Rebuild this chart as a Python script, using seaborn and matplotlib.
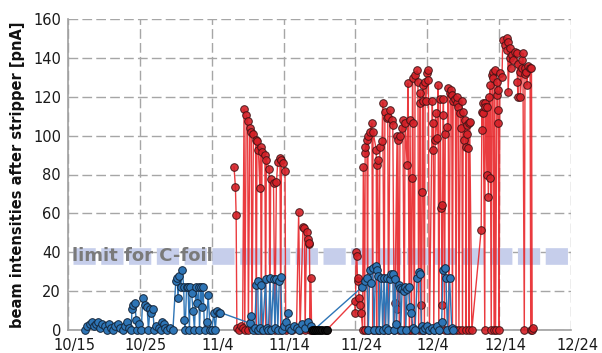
import matplotlib
matplotlib.use('Agg')
import matplotlib.pyplot as plt
import matplotlib.transforms as mtransforms
import seaborn as sns
import pandas as pd

# x values are days after 10/15
tick_days = [0, 10, 20, 30, 40, 50, 60, 70]
tick_labels = ['10/15', '10/25', '11/4', '11/14', '11/24', '12/4', '12/14', '12/24']
limit_value = 38

blue_days = [2.4, 2.7, 3.0, 3.3, 3.6, 3.9, 4.2, 4.5, 4.8, 5.1,
             5.4, 5.7, 6.0, 6.3, 6.6, 7.0, 7.3, 7.6, 7.9, 8.2,
             8.5, 8.8, 8.9, 9.1, 9.3, 9.5, 9.6, 9.9, 10.2, 10.4,
             10.7, 11.0, 11.2, 11.4, 11.6, 11.8, 12.0, 12.3, 12.6, 12.9,
             13.1, 13.3, 13.5, 13.8, 14.2, 14.6, 15.0, 15.2, 15.3, 15.5,
             15.7, 15.9, 16.1, 16.2, 16.3, 16.5, 16.7, 16.9, 17.0, 17.2,
             17.4, 17.6, 17.8, 18.0, 18.2, 18.3, 18.5, 18.6, 18.8, 19.0,
             19.3, 19.5, 19.8, 20.0, 20.3, 20.5, 20.7, 21.0, 21.2, 25.3,
             25.5, 25.7, 26.0, 26.2, 26.4, 26.5, 26.7, 26.9, 27.1, 27.5,
             27.7, 27.9, 28.1, 28.3, 28.6, 28.8, 29.0, 29.2, 29.4, 29.6,
             29.8, 30.0, 30.3, 30.6, 30.8, 31.0, 31.4, 31.8, 32.2, 32.6,
             33.0, 33.4, 33.8, 34.2, 40.9, 41.3, 41.6, 41.8, 42.0, 42.2,
             42.4, 42.6, 42.8, 43.0, 43.2, 43.3, 43.6, 43.8, 44.0, 44.2,
             44.4, 44.6, 44.8, 45.0, 45.2, 45.3, 45.5, 45.7, 46.0, 46.2,
             46.3, 46.5, 46.7, 46.9, 47.0, 47.2, 47.4, 47.6, 47.8, 48.0,
             48.3, 48.6, 48.8, 49.0, 49.2, 49.4, 49.7, 50.0, 50.3, 50.6,
             51.0, 51.3, 51.6, 52.0, 52.2, 52.4, 52.6, 52.8, 53.1, 53.4,
             53.6]
blue_vals = [0, 2, 3, 4, 2, 3, 4, 1, 3, 2,
             0, 3, 1, 0, 2, 3, 1, 0, 2, 4,
             1, 0, 11, 13, 14, 5, 0, 3, 0, 16.5,
             13, 12, 0, 11, 8.7, 11, 0, 2, 1, 0,
             4, 3, 1, 0, 1, 0, 25, 27, 16.5, 28,
             22, 31, 22, 5, 0, 22, 22, 0, 22, 19,
             10, 0, 22, 14, 22, 0, 22, 12, 22, 0,
             4, 18, 0, 0, 9, 0, 10, 9, 9, 3.5,
             7, 0, 1, 23, 25, 0, 1, 23, 0, 26,
             1, 0, 27, 0, 26, 1, 26, 0, 25, 27.5,
             0, 2, 4, 9, 1, 0, 2, 1, 0, 3,
             1, 4, 2, 0, 22, 25, 27, 0, 31, 24,
             32, 0, 33, 31, 28, 0, 27, 0, 27, 1,
             27, 0, 26, 29, 29, 0, 26, 3, 23, 21.5,
             0, 21, 20, 22, 0, 21, 22, 12, 9, 1,
             0, 27, 30, 29, 2, 0, 1, 2, 0, 1,
             0, 2, 0, 4, 31, 32, 27, 0, 27, 1,
             0]

red_days = [23.1, 23.3, 23.4, 23.5, 23.8, 24.1, 24.3, 24.5, 24.6, 24.8,
            25.0, 25.1, 25.3, 25.5, 25.6, 25.8, 26.1, 26.2, 26.3, 26.5,
            26.7, 26.8, 26.9, 27.0, 27.4, 27.5, 27.6, 28.0, 28.1, 28.2,
            28.6, 28.8, 29.0, 29.2, 29.5, 29.6, 29.7, 29.9, 30.2, 30.3,
            30.6, 31.2, 31.8, 32.1, 32.3, 32.7, 32.9, 33.0, 33.2, 33.4,
            33.5, 33.6, 33.7, 33.8, 33.9, 36.0, 39.9, 40.0, 40.1, 40.2,
            40.3, 40.4, 40.5, 40.6, 40.8, 41.0, 41.1, 41.3, 41.35, 41.4,
            41.6, 41.7, 41.75, 42.0, 42.3, 42.4, 42.45, 42.9, 42.95, 43.0,
            43.1, 43.3, 43.4, 43.7, 43.8, 44.0, 44.1, 44.4, 44.5, 44.6,
            44.8, 45.1, 45.2, 45.4, 45.5, 45.8, 45.85, 45.9, 46.1, 46.2,
            46.5, 46.6, 46.8, 46.9, 47.2, 47.3, 47.5, 47.6, 47.8, 47.9,
            47.95, 48.0, 48.2, 48.3, 48.6, 48.7, 48.8, 49.0, 49.05, 49.1,
            49.2, 49.3, 49.35, 49.4, 49.6, 49.7, 49.8, 50.0, 50.1, 50.15,
            50.3, 50.7, 50.8, 50.85, 50.9, 51.1, 51.15, 51.4, 51.5, 51.6,
            51.8, 51.9, 52.0, 52.05, 52.2, 52.25, 52.4, 52.5, 52.8, 52.9,
            53.0, 53.2, 53.25, 53.4, 53.5, 53.6, 53.9, 54.0, 54.1, 54.15,
            54.3, 54.4, 54.6, 54.65, 54.8, 54.9, 55.0, 55.05, 55.3, 55.35,
            55.4, 55.5, 55.55, 55.7, 55.75, 55.8, 55.9, 56.2, 57.5, 57.6,
            57.65, 57.7, 57.8, 58.0, 58.05, 58.1, 58.3, 58.35, 58.5, 58.55,
            58.7, 58.75, 58.9, 59.0, 59.1, 59.15, 59.3, 59.4, 59.5, 59.7,
            59.75, 59.8, 59.85, 59.9, 60.0, 60.1, 60.4, 60.5, 60.8, 61.1,
            61.15, 61.2, 61.25, 61.5, 61.55, 61.6, 61.8, 61.9, 62.2, 62.5,
            62.55, 62.6, 62.65, 62.9, 62.95, 63.2, 63.25, 63.3, 63.5, 63.6,
            63.65, 63.8, 63.85, 64.0, 64.3, 64.4, 64.5, 64.6, 64.7]
red_vals = [84, 73.5, 59, 1, 0, 2, 1, 113.5, 0, 110.5,
            107.5, 0, 104, 102, 1, 101, 98, 0, 97, 92.6,
            73, 94, 0, 91.5, 90, 0, 87.5, 83, 0, 77.7,
            75.6, 0, 76, 86.4, 88.5, 0, 87.5, 86, 82, 0,
            1, 0, 1, 60.7, 0, 53, 52.5, 0, 50.4, 47,
            44, 45, 0, 27, 0, 0, 15, 9, 40, 38,
            25, 27, 16.5, 13, 9, 0, 84, 0, 91, 94,
            97.7, 0, 100, 102, 106.5, 0, 102, 92.6, 0, 85,
            87.5, 0, 94, 97, 117, 0, 112, 109, 109.6, 0,
            113, 108, 105.5, 0, 14, 100, 11, 97.7, 0, 100,
            104, 108, 0, 106.5, 85, 127, 0, 108, 0, 78,
            129.6, 106.5, 0, 131, 133.7, 127.5, 0, 122, 117, 13,
            0, 71, 118, 126, 0, 127.5, 118, 132, 134, 128.6,
            0, 118, 92.6, 106.5, 0, 97.7, 111.6, 99, 126, 0,
            119, 62.7, 64.3, 13, 110.6, 119, 0, 101, 104.4, 124.5,
            0, 122, 123.5, 121, 0, 118, 119, 0, 117, 120,
            114.7, 0, 111.6, 104, 118, 0, 112, 97.7, 108, 94,
            0, 105.5, 101, 93.6, 106.5, 0, 107, 0, 51.4, 112,
            103, 111.6, 117, 0, 116.7, 114.7, 79.7, 114.7, 68.4, 120,
            78, 126, 0, 131, 132.7, 129.6, 0, 133.7, 0, 127.5,
            121, 123.5, 113, 106.5, 0, 132, 130, 149, 146.6, 150,
            144, 148, 122.4, 145, 140, 135, 141.5, 139, 143, 142.5,
            127.5, 120, 137, 132.7, 120, 135, 139, 142.5, 0, 135,
            131.7, 132.7, 126, 136, 135, 0, 135, 0, 1]

black_days = [33.9, 34.2, 34.5, 34.8, 35.1, 35.4, 35.7, 36.0]
black_vals = [0, 0, 0, 0, 0, 0, 0, 0]

red = pd.DataFrame({'day': red_days, 'beam': red_vals})
blue = pd.DataFrame({'day': blue_days, 'beam': blue_vals})
black = pd.DataFrame({'day': black_days, 'beam': black_vals})

sns.set_style('white')
plt.rcParams['font.family'] = ['DejaVu Sans']
plt.rcParams['lines.scale_dashes'] = False

fig = plt.figure(figsize=(6.02, 3.53), dpi=100)
ax = fig.add_axes([68 / 602, 1 - 330 / 353, 503 / 602, 311 / 353])

# limit band
ax.axhline(limit_value, xmin=0.01, xmax=1, color='#c6ceeb', lw=12,
           linestyle=(0, (16, 4)), zorder=1)
ax.text(0.6, limit_value, 'limit for C-foil', color='#7a7a7a', fontsize=13,
        fontweight='bold', va='center', ha='left', zorder=1.5)

sns.lineplot(data=red, x='day', y='beam', ax=ax, estimator=None, sort=False,
             color='#e8262a', lw=1.0, alpha=0.9, marker='o', markersize=5.5,
             markerfacecolor='#d42027', markeredgecolor='#3b1214',
             markeredgewidth=0.7, clip_on=False, zorder=3)
sns.lineplot(data=blue, x='day', y='beam', ax=ax, estimator=None, sort=False,
             color='#2e75b6', lw=1.0, marker='o', markersize=5.5,
             markerfacecolor='#2e75b6', markeredgecolor='#14263b',
             markeredgewidth=0.7, clip_on=False, zorder=4)
sns.lineplot(data=black, x='day', y='beam', ax=ax, estimator=None, sort=False,
             color='#111111', lw=1.0, marker='o', markersize=5.5,
             markerfacecolor='#111111', markeredgecolor='#000000',
             markeredgewidth=0.7, clip_on=False, zorder=5)

ax.set_xlim(0, 70)
ax.set_ylim(0, 160)
ax.set_xticks(tick_days)
ax.set_xticklabels(tick_labels)
ax.set_yticks(range(0, 161, 20))
ax.tick_params(length=0, labelsize=10.5, colors='#1a1a1a')
ax.tick_params(axis='x', pad=6)
ax.tick_params(axis='y', pad=5)
offset = mtransforms.ScaledTranslation(6 / 100, 0, fig.dpi_scale_trans)
for lab in ax.get_xticklabels():
    lab.set_transform(lab.get_transform() + offset)

ax.grid(True, color='#a6a6a6', linestyle=(0, (7, 3)), lw=1.0)
ax.set_axisbelow(True)
for s in ['top', 'right']:
    ax.spines[s].set_visible(False)
for s in ['left', 'bottom']:
    ax.spines[s].set_color('#a0a0a0')
    ax.spines[s].set_linewidth(1.2)

ax.set_xlabel('')
ax.set_ylabel('beam intensities after stripper [pnA]', fontsize=10.5,
              fontweight='bold', color='#111111', labelpad=6)

fig.savefig('out.png', dpi=100)
